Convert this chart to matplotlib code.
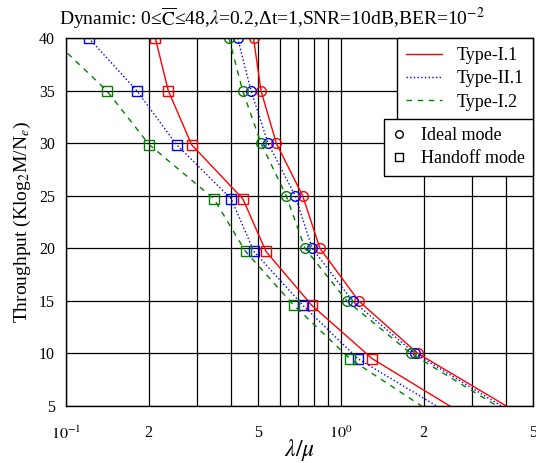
import matplotlib
matplotlib.use("Agg")
import matplotlib.pyplot as plt
from matplotlib.lines import Line2D
from matplotlib.ticker import FixedLocator, FixedFormatter

plt.rcParams['font.family'] = ['Liberation Serif', 'DejaVu Serif']
plt.rcParams['mathtext.fontset'] = 'stix'

# Throughput levels
y_circ = [40, 35, 30, 25, 20, 15, 10, 5]
y_sq = [40, 35, 29.85, 24.7, 19.7, 14.6, 9.5, 5]

# Ideal mode (circles) lambda/mu
t1_ideal = [0.481, 0.512, 0.582, 0.726, 0.839, 1.160, 1.905, 4.00]
t2_ideal = [0.421, 0.471, 0.543, 0.682, 0.786, 1.103, 1.858, 3.84]
t12_ideal = [0.3915, 0.439, 0.512, 0.6325, 0.740, 1.0515, 1.797, 3.70]

# Handoff mode (squares) lambda/mu
t1_hand = [0.2113, 0.2355, 0.2864, 0.440, 0.534, 0.782, 1.300, 2.49]
t2_hand = [0.1209, 0.1807, 0.2526, 0.399, 0.4827, 0.726, 1.153, 2.23]
t12_hand = [0.0886, 0.1406, 0.2009, 0.3453, 0.450, 0.673, 1.078, 1.966]

series_names = ['Type-I.1', 'Type-II.1', 'Type-I.2']
mode_names = ['Ideal mode', 'Handoff mode']

fig = plt.figure(figsize=(5.36, 4.63), dpi=100)
ax = fig.add_axes([66/536, 1-406/463, 467/536, 368/463])

styles = [dict(color='#ff0000', ls='-'),
          dict(color='#0000ff', ls=':'),
          dict(color='#008000', ls=(0, (4, 4)))]
ideal = [t1_ideal, t2_ideal, t12_ideal]
hand = [t1_hand, t2_hand, t12_hand]

for st, xi, xh in zip(styles, ideal, hand):
    ax.plot(xi, y_circ, color=st['color'], ls=st['ls'], lw=1.0,
            marker='o', ms=7, mfc='none', mec=st['color'], mew=1.0,
            markevery=slice(0, 7))
    ax.plot(xh, y_sq, color=st['color'], ls=st['ls'], lw=1.0,
            marker='s', ms=7, mfc='none', mec=st['color'], mew=1.0,
            markevery=slice(0, 7))

ax.set_xscale('log')
ax.set_xlim(0.1, 5)
ax.set_ylim(5, 40)
ax.set_yticks([5, 10, 15, 20, 25, 30, 35, 40])

ax.xaxis.set_major_locator(FixedLocator([0.1, 1]))
ax.xaxis.set_major_formatter(FixedFormatter([r'$10^{-1}$', r'$10^{0}$']))
minor = [0.2, 0.3, 0.4, 0.5, 0.6, 0.7, 0.8, 0.9, 2, 3, 4, 5]
minor_labels = ['2', '', '', '5', '', '', '', '', '2', '', '', '5']
ax.xaxis.set_minor_locator(FixedLocator(minor))
ax.xaxis.set_minor_formatter(FixedFormatter(minor_labels))

ax.grid(True, which='both', color='black', lw=0.9, ls='-')
ax.tick_params(which='both', direction='in', length=0, labelsize=11.5)
ax.tick_params(axis='x', which='both', pad=14)
ax.tick_params(axis='y', pad=8)
for s in ax.spines.values():
    s.set_linewidth(1.0)

fig.text(272/536, 1-18/463,
         'Dynamic: 0\u2264' + r'$\overline{\mathrm{C}}$' + '\u226448,' + r'$\lambda$'
         + '=0.2,\u0394t=1,SNR=10dB,BER=10' + r'$^{-2}$',
         fontsize=14, ha='center', va='center')
ax.set_ylabel(r'Throughput (Klog$_2$M/N$_e$)', fontsize=14)
ax.set_xlabel(r'$\lambda/\mu$', fontsize=17, labelpad=-4)

h1 = [Line2D([], [], color=st['color'], ls=st['ls'], lw=1.0) for st in styles]
leg1 = ax.legend(h1, series_names, loc='upper right', bbox_to_anchor=(1, 1),
                 borderaxespad=0, fontsize=13, fancybox=False, framealpha=1,
                 edgecolor='black', handlelength=2.0, labelspacing=0.35,
                 borderpad=0.5)
leg1.get_frame().set_linewidth(1.0)
ax.add_artist(leg1)
h2 = [Line2D([], [], color='black', ls='none', marker='o', mfc='none', ms=5.5),
      Line2D([], [], color='black', ls='none', marker='s', mfc='none', ms=5.5)]
leg2 = ax.legend(h2, mode_names, loc='upper right', bbox_to_anchor=(1, 0.78),
                 borderaxespad=0, fontsize=13, fancybox=False, framealpha=1,
                 edgecolor='black', handlelength=0.8, handletextpad=0.8,
                 labelspacing=0.35, borderpad=0.45)
leg2.get_frame().set_linewidth(1.0)

fig.savefig('out.png', dpi=100)
